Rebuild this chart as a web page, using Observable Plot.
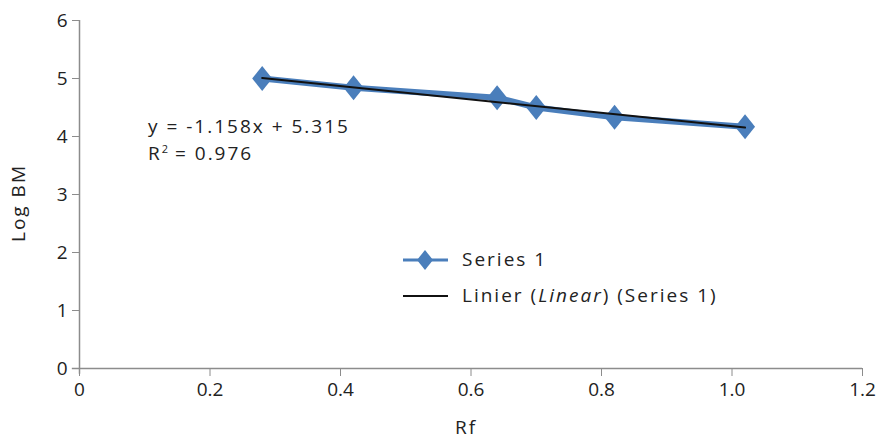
<!DOCTYPE html>
<html>
<head>
<meta charset="utf-8">
<script src="https://cdn.jsdelivr.net/npm/d3@7"></script>
<script src="https://cdn.jsdelivr.net/npm/@observablehq/plot@0.6"></script>
<style>
  body { margin: 0; background: #fff; font-family: "Open Sans", sans-serif; }
  #wrap { position: relative; width: 876px; height: 440px; }
  .ov { position: absolute; font-size: 19px; color: #222; white-space: nowrap; letter-spacing: 2px; line-height: 1.2; }
</style>
</head>
<body>
<div id="wrap"></div>
<script>
const rf = [0.28, 0.42, 0.64, 0.70, 0.82, 1.02];
const logBM = [5.00, 4.84, 4.67, 4.50, 4.33, 4.17];
const xTicks = [0, 0.2, 0.4, 0.6, 0.8, 1.0, 1.2];
const yTicks = [0, 1, 2, 3, 4, 5, 6];
const seriesName = "Series 1";
const equation = "y = -1.158x + 5.315";
const r2Text = "0.976";

const data = rf.map((x, i) => ({x, y: logBM[i]}));
const blue = "#4a7ebb";
const axisGray = "#8c8c8c";
const xFmt = d => d === 0 ? "0" : d.toFixed(1);
const yFmt = d => String(d);

const diamond = {
  draw(ctx, size) {
    const r = Math.sqrt(size / Math.PI);
    ctx.moveTo(0, -r);
    ctx.lineTo(r * 0.8, 0);
    ctx.lineTo(0, r);
    ctx.lineTo(-r * 0.8, 0);
    ctx.closePath();
  }
};

const chart = Plot.plot({
  width: 876,
  height: 440,
  marginLeft: 79,
  marginRight: 14,
  marginTop: 20,
  marginBottom: 72,
  style: {fontFamily: "Open Sans, sans-serif", fontSize: "19px", color: "#222", background: "#fff"},
  x: {domain: [0, 1.2], label: null},
  y: {domain: [0, 6], label: null},
  marks: [
    Plot.axisX({ticks: xTicks, tickFormat: xFmt, tickSize: 8, tickPadding: 6, stroke: axisGray, label: null, fontSize: 19}),
    Plot.axisY({ticks: yTicks, tickFormat: yFmt, tickSize: 7, tickPadding: 5, stroke: axisGray, label: null, fontSize: 19}),
    Plot.ruleY([0], {x1: -0.011, x2: 1.2, stroke: axisGray, strokeWidth: 1.5}),
    Plot.ruleX([0], {y1: -0.1, y2: 6, stroke: axisGray, strokeWidth: 1.5}),
    Plot.line(data, {x: "x", y: "y", stroke: blue, strokeWidth: 6, strokeLinejoin: "round"}),
    Plot.dot(data, {x: "x", y: "y", symbol: diamond, r: 12.5, fill: blue, stroke: "none"}),
    Plot.linearRegressionY(data, {x: "x", y: "y", stroke: "#111", strokeWidth: 2, ci: 0})
  ]
});

const wrap = document.getElementById("wrap");
wrap.appendChild(chart);

function addText(html, css) {
  const d = document.createElement("div");
  d.className = "ov";
  d.innerHTML = html;
  Object.assign(d.style, css);
  wrap.appendChild(d);
  return d;
}

// axis titles
addText("Log BM", {left: "18px", top: "203px", transform: "translate(-50%,-50%) rotate(-90deg)"});
addText("Rf", {left: "466px", top: "427px", transform: "translate(-50%,-50%)"});

// equation
addText(equation, {left: "148px", top: "115px"});
addText("R<sup style='font-size:11px;letter-spacing:0'>2</sup> = " + r2Text, {left: "148px", top: "142px"});

// legend
const leg = document.createElement("div");
leg.style.position = "absolute";
leg.style.left = "403px";
leg.style.top = "246px";
leg.innerHTML = `
<svg width="50" height="62" style="position:absolute;left:0;top:0">
  <line x1="0" y1="14" x2="45" y2="14" stroke="${blue}" stroke-width="3"/>
  <path d="M22,4 L30,14 L22,24 L14,14 Z" fill="${blue}"/>
  <line x1="0" y1="50" x2="45" y2="50" stroke="#111" stroke-width="2"/>
</svg>`;
wrap.appendChild(leg);
addText(seriesName, {left: "462px", top: "248px"});
addText("Linier (<i>Linear</i>) (" + seriesName + ")", {left: "462px", top: "284px"});
</script>
</body>
</html>
